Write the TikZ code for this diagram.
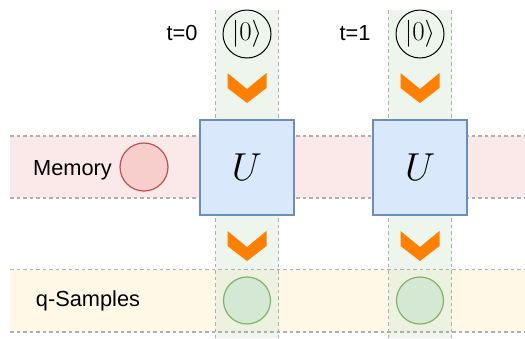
\RequirePackage{fix-cm}
\documentclass[tikz,border=0pt]{standalone}
\usepackage{fontspec}
\setmainfont{Liberation Sans}
\definecolor{chevorange}{HTML}{FF8000}
\definecolor{uborder}{HTML}{6C8EBF}
\definecolor{ufill}{HTML}{DAE8FC}
\definecolor{sborder}{HTML}{82B366}
\definecolor{sfill}{HTML}{D5E8D4}
\definecolor{mborder}{HTML}{B85450}
\definecolor{mfill}{HTML}{F8CECC}
\definecolor{memband}{HTML}{FBE8E8}
\definecolor{qsband}{HTML}{FFF8E7}
\definecolor{dashgray}{HTML}{AFAFAF}
\begin{document}
\begin{tikzpicture}[x=1pt,y=-1pt,
  dashline/.style={draw=dashgray, line width=1.1pt, dash pattern=on 3.5pt off 3pt},
  colfill/.style={fill=sfill, fill opacity=0.42},
  lbl/.style={font=\fontsize{21.8}{25}\selectfont, anchor=base, inner sep=0},
  ket/.style={circle, draw=black, line width=1pt, minimum size=48pt, inner sep=0, font=\fontsize{27}{30}\selectfont},
  ubox/.style={draw=uborder, fill=ufill, line width=1.2pt, minimum width=94pt, minimum height=95pt, inner sep=0, font=\fontsize{39}{42}\selectfont},
  sample/.style={circle, draw=sborder, fill=sfill, line width=1.2pt, minimum size=47pt, inner sep=0},
  memc/.style={circle, draw=mborder, fill=mfill, line width=1.2pt, minimum size=48pt, inner sep=0},
  chevron/.pic={\fill[chevorange] (-19.5,0) -- (0,16) -- (19.5,0) -- (19.5,15) -- (0,30) -- (-19.5,15) -- cycle;}]
\useasboundingbox (0,0) rectangle (525,338);
% bands
\fill[memband] (10,136) rectangle (525,198);
\fill[qsband] (10,269.5) rectangle (525,332);
% columns
\fill[colfill] (215.5,10) rectangle (278.5,338);
\fill[colfill] (388.5,10) rectangle (451.5,338);
% dashed borders
\foreach \yy in {136,198,269.5,332} \draw[dashline] (10,\yy) -- (525,\yy);
\foreach \xx in {215.5,278.5,388.5,451.5} \draw[dashline] (\xx,10) -- (\xx,338);
% labels
\node[lbl] (t0) at (182,40) {t=0};
\node[lbl] (t1) at (355,40) {t=1};
\node[lbl] (mem) at (72.5,175) {Memory};
\node[lbl] (qs) at (88,306) {q-Samples};
% nodes
\node[ket] (k0) at (247,34) {$|0\rangle$};
\node[ket] (k1) at (420,34) {$|0\rangle$};
\node[memc] (mc) at (144,167) {};
\node[ubox] (u0) at (247,167.5) {$U$};
\node[ubox] (u1) at (420,167.5) {$U$};
\node[sample] (s0) at (247,300.5) {};
\node[sample] (s1) at (420,300.5) {};
% chevrons
\pic at (247,73) {chevron};
\pic at (247,231) {chevron};
\pic at (420,73) {chevron};
\pic at (420,231) {chevron};
\end{tikzpicture}
\end{document}
